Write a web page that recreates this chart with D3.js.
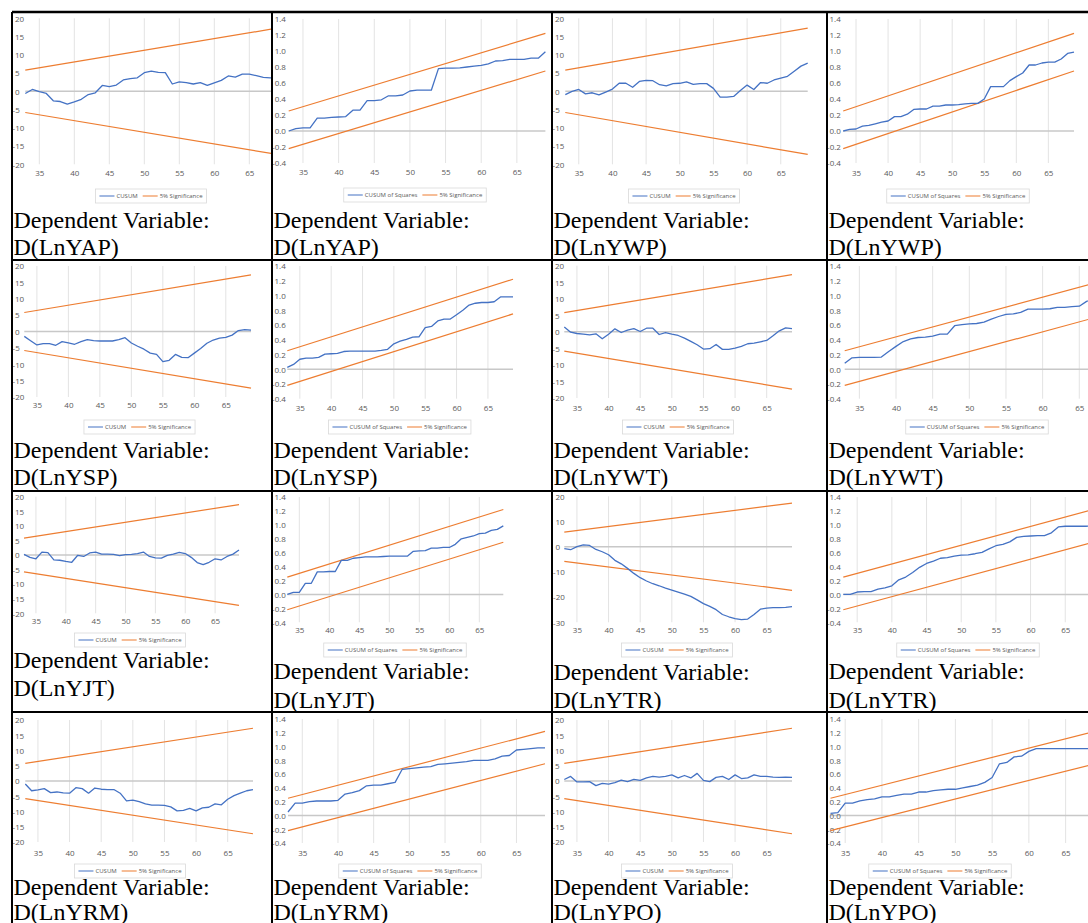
<!DOCTYPE html>
<html>
<head>
<meta charset="utf-8">
<script src="https://cdn.jsdelivr.net/npm/d3@7"></script>
<style>
  body { margin: 0; background: #fff; }
  text { font-family: "Open Sans", "Liberation Sans", sans-serif; }
</style>
</head>
<body>
<div id="chart"></div>
<script>
// periods on the x axis
const periods = [33,34,35,36,37,38,39,40,41,42,43,44,45,46,47,48,49,50,51,52,53,54,55,56,57,58,59,60,61,62,63,64,65,66,67,68,69];
const xTicks = [35,40,45,50,55,60,65];
const cusumTicks = [20,15,10,5,0,-5,-10,-15,-20];
const cusumTicksWide = [20,10,0,-10,-20,-30];
const sqTicks = [1.4,1.2,1.0,0.8,0.6,0.4,0.2,0.0,-0.2,-0.4];

// 5% significance lines, value at first and last period
const boundPeriods = [33, 69];
const cusumUpper = [5.8, 17.3];
const cusumLower = [-5.8, -17.3];
const sqUpper = [0.25, 1.22];
const sqLower = [-0.22, 0.75];

// CUSUM and CUSUM of squares
const cusumYAP = [-0.6,0.5,-0.1,-0.6,-2.6,-2.8,-3.5,-2.9,-2.2,-0.9,-0.4,1.6,1.3,1.7,3.1,3.5,3.7,5.1,5.5,5.2,5.1,2.0,2.6,2.4,2.0,2.4,1.6,2.3,3.0,4.2,3.9,4.7,4.7,4.3,3.8,3.7,3.5];
const sqYAP = [0.0,0.03,0.04,0.04,0.16,0.16,0.17,0.175,0.18,0.26,0.26,0.38,0.38,0.39,0.44,0.44,0.45,0.50,0.51,0.51,0.51,0.78,0.785,0.785,0.79,0.80,0.81,0.82,0.84,0.875,0.88,0.895,0.895,0.895,0.91,0.91,0.99];
const cusumYWP = [-0.9,0,0.5,-0.7,-0.4,-1.0,-0.2,0.6,2.2,2.2,1.1,2.7,3.0,2.9,1.8,1.5,2.1,2.2,2.6,1.9,2.1,2.1,0.8,-1.6,-1.6,-1.4,0.2,1.7,0.5,2.4,2.2,3.1,3.6,4.1,5.5,6.9,7.7];
const sqYWP = [0.0,0.02,0.025,0.06,0.07,0.09,0.11,0.125,0.18,0.18,0.21,0.27,0.275,0.275,0.31,0.31,0.325,0.325,0.33,0.34,0.345,0.345,0.40,0.555,0.555,0.555,0.63,0.68,0.725,0.825,0.825,0.85,0.86,0.86,0.90,0.97,0.985];
const cusumYSP = [-1.5,-2.8,-4.1,-3.7,-3.7,-4.2,-3.1,-3.5,-3.9,-3.1,-2.5,-2.8,-2.9,-2.9,-2.9,-2.5,-1.9,-3.5,-4.5,-5.4,-6.6,-7.0,-9.2,-8.8,-7.0,-7.9,-8.0,-6.6,-5.2,-3.6,-2.6,-2.0,-1.8,-1.1,0.3,0.6,0.4];
const sqYSP = [0.025,0.065,0.135,0.15,0.15,0.16,0.205,0.21,0.215,0.24,0.245,0.245,0.245,0.245,0.245,0.255,0.27,0.345,0.38,0.405,0.435,0.44,0.565,0.58,0.655,0.68,0.68,0.74,0.80,0.87,0.895,0.905,0.905,0.915,0.98,0.98,0.98];
const cusumYWT = [1.5,-0.1,-0.5,-0.7,-0.9,-0.6,-2.1,-0.7,0.9,-0.2,0.5,1.0,0.1,1.1,1.1,-0.8,-0.2,-0.7,-1.1,-1.9,-2.9,-3.9,-5.2,-5.1,-3.8,-5.3,-5.3,-4.9,-4.4,-3.6,-3.4,-3.0,-2.6,-1.2,0.3,1.2,1.0];
const sqYWT = [0.08,0.155,0.16,0.16,0.16,0.165,0.24,0.31,0.375,0.41,0.43,0.435,0.45,0.475,0.475,0.59,0.605,0.615,0.62,0.64,0.68,0.715,0.745,0.75,0.77,0.815,0.815,0.815,0.82,0.84,0.84,0.85,0.855,0.92,0.96,0.98,1.0];
const cusumYJT = [0.2,-0.8,-1.3,1.0,0.8,-1.7,-1.8,-2.2,-2.5,-0.1,-0.5,0.7,1.0,0.3,0.3,0.2,-0.2,0.1,0.2,0.5,1.0,-0.5,-1.0,-1.1,-0.1,0.3,0.9,0.5,-0.8,-2.6,-3.3,-2.5,-1.3,-1.7,-0.5,0.3,1.7];
const sqYJT = [0.0,0.03,0.03,0.16,0.16,0.325,0.325,0.33,0.33,0.49,0.49,0.52,0.53,0.54,0.54,0.54,0.545,0.55,0.55,0.55,0.55,0.62,0.625,0.63,0.665,0.665,0.675,0.675,0.72,0.80,0.82,0.84,0.875,0.88,0.92,0.935,0.985];
const cusumYTR = [-0.8,-1.2,0,0.7,0.5,-1.1,-2.0,-3.2,-5.4,-6.8,-8.6,-10.6,-12.3,-13.6,-14.7,-15.5,-16.4,-17.2,-18.0,-18.8,-19.7,-21.1,-22.6,-23.7,-25.0,-26.9,-27.8,-28.5,-28.9,-28.7,-26.9,-24.8,-24.4,-24.2,-24.2,-24.1,-23.8];
const sqYTR = [0.0,0.0,0.035,0.04,0.04,0.075,0.095,0.125,0.21,0.25,0.315,0.39,0.445,0.48,0.52,0.53,0.55,0.565,0.57,0.585,0.605,0.655,0.70,0.72,0.755,0.82,0.835,0.84,0.845,0.845,0.885,0.97,0.98,0.98,0.98,0.98,0.985];
const cusumYRM = [-1.0,-3.2,-2.9,-2.5,-3.8,-3.6,-3.9,-4.0,-2.2,-2.5,-4.0,-2.3,-2.7,-2.8,-2.8,-4.0,-6.5,-6.3,-6.8,-7.5,-7.9,-7.9,-8.0,-8.5,-9.8,-9.6,-9.0,-9.8,-8.8,-8.6,-7.5,-7.8,-6.0,-4.8,-4.0,-3.2,-2.8];
const sqYRM = [0.05,0.18,0.18,0.2,0.21,0.21,0.21,0.22,0.31,0.33,0.36,0.43,0.44,0.44,0.46,0.48,0.67,0.68,0.69,0.70,0.71,0.74,0.75,0.76,0.77,0.78,0.80,0.80,0.80,0.82,0.86,0.87,0.95,0.96,0.97,0.98,0.98];
const cusumYPO = [0.5,1.5,-0.3,-0.3,-0.2,-1.5,-0.8,-1.0,-0.5,0.3,-0.2,0.5,0.2,1.0,1.5,1.3,1.5,2.0,1.0,1.8,1.0,2.5,0.2,-0.2,1.2,1.5,0.5,2.0,0.8,1.0,2.0,1.5,1.5,1.3,1.2,1.3,1.2];
const sqYPO = [0.03,0.04,0.18,0.18,0.21,0.23,0.24,0.27,0.27,0.29,0.31,0.31,0.34,0.34,0.36,0.37,0.38,0.38,0.40,0.42,0.44,0.48,0.55,0.75,0.77,0.85,0.86,0.93,0.97,0.97,0.97,0.97,0.97,0.97,0.97,0.97,0.97];

const blue = "#4472C4", orange = "#ED7D31", tickColor = "#595959";

// table grid
const colEdges = [12, 272, 552, 827, 1100];
const rowEdges = [12, 260, 491, 712, 940];

// each pasted chart: pixel of first/last period, of top/bottom tick, label and legend spots
const panels = [
  {row:0, col:0, kind:"cusum", name:"LnYAP", values:cusumYAP, x0:25.3, x1:277.3, yTop:18.3, yBot:164.3, labelX:15, xLabelY:173, legendY:196, legendCx:151, capY:[228,255]},
  {row:0, col:1, kind:"sq", name:"LnYAP", values:sqYAP, x0:288.7, x1:545.4, yTop:19, yBot:163, labelX:274.7, xLabelY:172, legendY:195, legendCx:415, capY:[228,255]},
  {row:0, col:2, kind:"cusum", name:"LnYWP", values:cusumYWP, x0:565.3, x1:807.7, yTop:18.3, yBot:164.3, labelX:555, xLabelY:173, legendY:196, legendCx:684, capY:[228,255]},
  {row:0, col:3, kind:"sq", name:"LnYWP", values:sqYWP, x0:843.2, x1:1074, yTop:19, yBot:163, labelX:829.5, xLabelY:173, legendY:196, legendCx:958, capY:[228,255]},
  {row:1, col:0, kind:"cusum", name:"LnYSP", values:cusumYSP, x0:24.3, x1:251, yTop:266, yBot:397, labelX:15, xLabelY:405, legendY:427, legendCx:139.5, capY:[458,485]},
  {row:1, col:1, kind:"sq", name:"LnYSP", values:sqYSP, x0:287.3, x1:513, yTop:266, yBot:398.7, labelX:274.5, xLabelY:408, legendY:427, legendCx:399.7, capY:[458,485]},
  {row:1, col:2, kind:"cusum", name:"LnYWT", values:cusumYWT, x0:564.3, x1:792, yTop:265.7, yBot:398, labelX:555, xLabelY:408, legendY:427, legendCx:678, capY:[458,485]},
  {row:1, col:3, kind:"sq", name:"LnYWT", values:sqYWT, x0:844.7, x1:1108.6, yTop:266, yBot:398.7, labelX:829.5, xLabelY:408, legendY:427, legendCx:977, capY:[458,485]},
  {row:2, col:0, kind:"cusum", name:"LnYJT", values:cusumYJT, x0:24, x1:239, yTop:496.7, yBot:613.3, labelX:15, xLabelY:621, legendY:640, legendCx:130, capY:[668,696]},
  {row:2, col:1, kind:"sq", name:"LnYJT", values:sqYJT, x0:287.3, x1:503.3, yTop:497, yBot:622.3, labelX:274.5, xLabelY:630, legendY:650, legendCx:395, capY:[679,708]},
  {row:2, col:2, kind:"cusumWide", name:"LnYTR", values:cusumYTR, x0:564.3, x1:792, yTop:496.3, yBot:622.3, labelX:555.5, xLabelY:630, legendY:650, legendCx:677, capY:[680,708]},
  {row:2, col:3, kind:"sq", name:"LnYTR", values:sqYTR, x0:843.3, x1:1093, yTop:497, yBot:622.3, labelX:829.5, xLabelY:630, legendY:650, legendCx:968, capY:[679,708]},
  {row:3, col:0, kind:"cusum", name:"LnYRM", values:cusumYRM, x0:25.3, x1:253, yTop:720, yBot:842, labelX:15, xLabelY:853, legendY:871, legendCx:130, capY:[895,920]},
  {row:3, col:1, kind:"sq", name:"LnYRM", values:sqYRM, x0:288, x1:545, yTop:719, yBot:843, labelX:274.5, xLabelY:853, legendY:871, legendCx:410, capY:[895,920]},
  {row:3, col:2, kind:"cusum", name:"LnYPO", values:cusumYPO, x0:564.3, x1:792, yTop:720, yBot:842, labelX:555, xLabelY:853, legendY:871, legendCx:677, capY:[895,920]},
  {row:3, col:3, kind:"sq", name:"LnYPO", values:sqYPO, x0:830.5, x1:1095, yTop:719, yBot:843, labelX:829.5, xLabelY:853, legendY:871, legendCx:940, capY:[895,920]}
];

const svg = d3.select("#chart").append("svg")
    .attr("width", 1088)
    .attr("height", 923);

const defs = svg.append("defs");

panels.forEach((p, i) => {
    const cx0 = colEdges[p.col], cx1 = colEdges[p.col + 1];
    const cy0 = rowEdges[p.row], cy1 = rowEdges[p.row + 1];
    defs.append("clipPath").attr("id", "cell" + i)
        .append("rect")
        .attr("x", cx0 + 0.5).attr("y", cy0 + 1)
        .attr("width", cx1 - cx0 - 1.5).attr("height", cy1 - cy0 - 2);

    const g = svg.append("g").attr("clip-path", `url(#cell${i})`);

    const isSq = p.kind === "sq";
    const ticks = isSq ? sqTicks : (p.kind === "cusumWide" ? cusumTicksWide : cusumTicks);
    const upper = isSq ? sqUpper : cusumUpper;
    const lower = isSq ? sqLower : cusumLower;

    const x = d3.scaleLinear().domain([boundPeriods[0], boundPeriods[1]]).range([p.x0, p.x1]);
    const y = d3.scaleLinear().domain([d3.min(ticks), d3.max(ticks)]).range([p.yBot, p.yTop]);

    // vertical gridlines
    g.selectAll(".grid").data(xTicks).enter().append("line")
        .attr("x1", d => x(d)).attr("x2", d => x(d))
        .attr("y1", y(d3.max(ticks))).attr("y2", y(d3.min(ticks)))
        .attr("stroke", "#e3e3e3")
        .attr("stroke-width", 1);

    // zero line
    g.append("line")
        .attr("x1", x(periods[0])).attr("x2", x(periods[periods.length - 1]))
        .attr("y1", y(0)).attr("y2", y(0))
        .attr("stroke", "#c8c8c8")
        .attr("stroke-width", 1.5);

    // y tick labels, digits left aligned, minus hanging out
    const yAxis = g.append("g").call(d3.axisLeft(y).tickValues(ticks).tickSize(0)
        .tickFormat(d => isSq ? d.toFixed(1) : String(d)));
    yAxis.select(".domain").remove();
    yAxis.selectAll("text")
        .attr("text-anchor", "start")
        .attr("x", d => d < 0 ? p.labelX - 2.4 : p.labelX)
        .attr("dy", "0.35em")
        .attr("fill", tickColor)
        .style("font-size", "8px")
        .style("font-family", "'Open Sans', sans-serif");

    // x tick labels
    const xAxis = g.append("g").attr("transform", `translate(0,${p.xLabelY})`)
        .call(d3.axisBottom(x).tickValues(xTicks).tickSize(0));
    xAxis.select(".domain").remove();
    xAxis.selectAll("text")
        .attr("y", 0).attr("dy", "0.35em")
        .attr("fill", tickColor)
        .style("font-size", "8px")
        .style("font-family", "'Open Sans', sans-serif");

    // significance lines
    [upper, lower].forEach(b => {
        g.append("path")
            .datum(boundPeriods.map((t, k) => [t, b[k]]))
            .attr("fill", "none")
            .attr("stroke", orange)
            .attr("stroke-width", 1.2)
            .attr("d", d3.line().x(d => x(d[0])).y(d => y(d[1])));
    });

    // statistic
    g.append("path")
        .datum(p.values)
        .attr("fill", "none")
        .attr("stroke", blue)
        .attr("stroke-width", 1.3)
        .attr("stroke-linejoin", "round")
        .attr("d", d3.line().x((d, k) => x(periods[k])).y(d => y(d)));

    // legend
    const lg = g.append("g");
    const items = [{t: isSq ? "CUSUM of Squares" : "CUSUM", c: blue}, {t: "5% Significance", c: orange}];
    let pos = 0;
    items.forEach(it => {
        lg.append("line")
            .attr("x1", pos).attr("x2", pos + 15)
            .attr("y1", 0).attr("y2", 0)
            .attr("stroke", it.c).attr("stroke-width", 1.2);
        const t = lg.append("text")
            .attr("x", pos + 17).attr("y", 0).attr("dy", "0.35em")
            .attr("fill", tickColor)
            .style("font-size", "6px")
            .style("font-family", "'Open Sans', sans-serif")
            .text(it.t);
        pos += 17 + t.node().getComputedTextLength() + 5;
    });
    const w = pos - 5;
    lg.insert("rect", ":first-child")
        .attr("x", -4).attr("y", -7)
        .attr("width", w + 8).attr("height", 14)
        .attr("fill", "#fff")
        .attr("stroke", "#d9d9d9").attr("stroke-width", 0.8);
    lg.attr("transform", `translate(${p.legendCx - w / 2},${p.legendY})`);

    // caption under each chart
    const cap = g.append("text")
        .attr("fill", "#000")
        .style("font-family", "'Liberation Serif', 'Times New Roman', serif")
        .style("font-size", "24px");
    cap.append("tspan").attr("x", cx0 + 1.5).attr("y", p.capY[0]).text("Dependent Variable:");
    cap.append("tspan").attr("x", cx0 + 1.5).attr("y", p.capY[1]).text(`D(${p.name})`);
});

// table borders
const borders = svg.append("g").attr("stroke", "#000");
borders.selectAll(".v").data(colEdges).enter().append("line")
    .attr("x1", d => d).attr("x2", d => d)
    .attr("y1", rowEdges[0]).attr("y2", rowEdges[rowEdges.length - 1])
    .attr("stroke-width", 2);
borders.selectAll(".h").data(rowEdges).enter().append("line")
    .attr("x1", colEdges[0]).attr("x2", colEdges[colEdges.length - 1])
    .attr("y1", d => d).attr("y2", d => d)
    .attr("stroke-width", (d, k) => k === 0 ? 2.5 : 2);
</script>
</body>
</html>
